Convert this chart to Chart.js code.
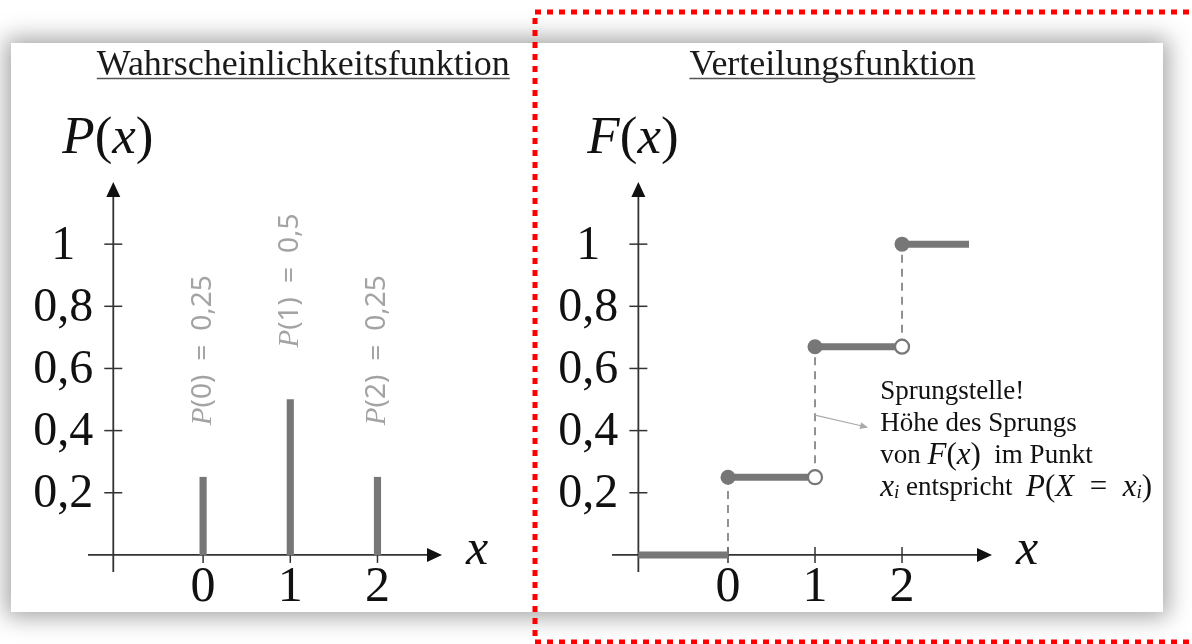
<!DOCTYPE html>
<html>
<head>
<meta charset="utf-8">
<script src="https://cdn.jsdelivr.net/npm/chart.js@4.4.1/dist/chart.umd.min.js"></script>
<style>
  html, body { margin: 0; padding: 0; background: #fff; }
  body { width: 1192px; height: 644px; position: relative; overflow: hidden; }
  #panel { position: absolute; left: 11px; top: 43px; width: 1152px; height: 569px; background: #fff;
           box-shadow: 0 0 22px 5px rgba(0,0,0,0.36); }
  .box { position: absolute; left: 0; top: 0; width: 1192px; height: 644px; }
  #frame { position: absolute; left: 0; top: 0; }
</style>
</head>
<body>
<div id="panel"></div>
<div class="box"><canvas id="pmfChart"></canvas></div>
<div class="box"><canvas id="cdfChart"></canvas></div>
<svg id="frame" width="1192" height="644">
  <rect x="535" y="12" width="720" height="630" fill="none" stroke="#f00" stroke-width="5" stroke-dasharray="6 6"/>
</svg>
<script>
const xValues = [0, 1, 2];
const pmfValues = [0.25, 0.5, 0.25];
const pmfLabels = ["P(0) = 0,25", "P(1) = 0,5", "P(2) = 0,25"];
const yTicks = [0.2, 0.4, 0.6, 0.8, 1];
const yTickLabels = ["0,2", "0,4", "0,6", "0,8", "1"];
// F(x) left of 0, on [0,1), on [1,2), from 2 on
const cdfLevels = [0, 0.25, 0.67, 1];
const cdfStart = -1.03;
const cdfEnd = 2.77;
const titles = ["Wahrscheinlichkeitsfunktion", "Verteilungsfunktion"];

const SERIF = '"Liberation Serif", serif';
const GRAY = "#777";

// draw a row of text pieces with different fonts
function drawParts(ctx, parts, x, y) {
  parts.forEach(p => {
    ctx.font = p.f;
    ctx.fillText(p.t, x, y + (p.dy || 0));
    x += ctx.measureText(p.t).width;
  });
}

const T = "27px " + SERIF, M = "31px " + SERIF, MI = "italic 31px " + SERIF, SUB = "italic 19px " + SERIF;
const noteLines = [
  [{ t: "Sprungstelle!", f: T }],
  [{ t: "Höhe des Sprungs", f: T }],
  [{ t: "von ", f: T }, { t: "F", f: MI }, { t: "(", f: M }, { t: "x", f: MI }, { t: ")", f: M },
   { t: "  im Punkt", f: T }],
  [{ t: "x", f: MI }, { t: "i", f: SUB, dy: 6 }, { t: " entspricht  ", f: T }, { t: "P", f: MI },
   { t: "(", f: M }, { t: "X", f: MI }, { t: "\u2002=\u2002", f: M }, { t: "x", f: MI },
   { t: "i", f: SUB, dy: 6 }, { t: ")", f: M }]
];

const axesPlugin = {
  id: "axes",
  beforeDatasetsDraw(chart, args, opts) {
    const ctx = chart.ctx, xs = chart.scales.x, ys = chart.scales.y, a = chart.chartArea;
    const x0 = xs.getPixelForValue(opts.yAxisAt), y0 = ys.getPixelForValue(0);
    ctx.save();
    ctx.strokeStyle = "#333";
    ctx.fillStyle = "#111";
    ctx.lineWidth = 1.8;
    // x axis with arrow
    ctx.beginPath(); ctx.moveTo(a.left, y0); ctx.lineTo(a.right - 10, y0); ctx.stroke();
    ctx.beginPath(); ctx.moveTo(a.right, y0); ctx.lineTo(a.right - 15, y0 - 7); ctx.lineTo(a.right - 15, y0 + 7);
    ctx.closePath(); ctx.fill();
    // y axis with arrow
    ctx.beginPath(); ctx.moveTo(x0, a.bottom); ctx.lineTo(x0, a.top + 10); ctx.stroke();
    ctx.beginPath(); ctx.moveTo(x0, a.top); ctx.lineTo(x0 - 7, a.top + 15); ctx.lineTo(x0 + 7, a.top + 15);
    ctx.closePath(); ctx.fill();
    // tick marks
    ctx.lineWidth = 1.5;
    yTicks.forEach(v => {
      const py = ys.getPixelForValue(v);
      ctx.beginPath(); ctx.moveTo(x0 - 9, py); ctx.lineTo(x0 + 9, py); ctx.stroke();
    });
    xValues.forEach(v => {
      const px = xs.getPixelForValue(v);
      ctx.beginPath(); ctx.moveTo(px, y0 - 8); ctx.lineTo(px, y0 + 8); ctx.stroke();
    });
    // tick labels
    ctx.textAlign = "center";
    ctx.textBaseline = "middle";
    ctx.font = "48px " + SERIF;
    yTicks.forEach((v, i) => ctx.fillText(yTickLabels[i], x0 - 50, ys.getPixelForValue(v) + 2));
    ctx.font = "50px " + SERIF;
    xValues.forEach(v => ctx.fillText(String(v), xs.getPixelForValue(v), y0 + 33));
    // axis names
    ctx.font = "italic 50px " + SERIF;
    ctx.fillText("x", a.right + 35, y0 - 4);
    ctx.textAlign = "left";
    ctx.textBaseline = "alphabetic";
    drawParts(ctx, [{ t: opts.name, f: "italic 53px " + SERIF }, { t: "(", f: "53px " + SERIF },
                    { t: "x", f: "italic 53px " + SERIF }, { t: ")", f: "53px " + SERIF }], x0 - 51, a.top - 29);
    // underlined title
    ctx.font = "36px " + SERIF;
    ctx.fillStyle = "#1a1a1a";
    const w = ctx.measureText(opts.title).width, tx = x0 + opts.titleShift;
    ctx.textAlign = "center";
    ctx.fillText(opts.title, tx, 75);
    ctx.strokeStyle = "#555";
    ctx.lineWidth = 1.5;
    ctx.beginPath(); ctx.moveTo(tx - w / 2, 78.5); ctx.lineTo(tx + w / 2, 78.5); ctx.stroke();
    ctx.restore();
  }
};

const pmfLabelPlugin = {
  id: "pmfLabels",
  afterDatasetsDraw(chart) {
    const ctx = chart.ctx, xs = chart.scales.x, ys = chart.scales.y;
    ctx.save();
    ctx.fillStyle = "#a3a3a3";
    ctx.textAlign = "left";
    ctx.textBaseline = "middle";
    xValues.forEach((v, i) => {
      ctx.save();
      ctx.translate(xs.getPixelForValue(v), ys.getPixelForValue(pmfValues[i]) - 52);
      ctx.rotate(-Math.PI / 2);
      const [lhs, rhs] = pmfLabels[i].split(" = ");
      const f = '28px "Noto Sans"';
      drawParts(ctx, [{ t: "P", f: "italic 29px " + SERIF }, { t: lhs.slice(1), f: f },
                      { t: "\u2002=\u2002", f: f }, { t: rhs, f: f }], 0, 0);
      ctx.restore();
    });
    ctx.restore();
  }
};

const notePlugin = {
  id: "note",
  afterDatasetsDraw(chart) {
    const ctx = chart.ctx, xs = chart.scales.x, ys = chart.scales.y;
    ctx.save();
    // thin arrow from the jump at x = 1 to the note
    const ax = xs.getPixelForValue(1), ay = ys.getPixelForValue(0.45);
    const bx = xs.getPixelForValue(1.61), by = ys.getPixelForValue(0.41);
    ctx.strokeStyle = "#aaa"; ctx.fillStyle = "#aaa"; ctx.lineWidth = 1.2;
    ctx.beginPath(); ctx.moveTo(ax, ay); ctx.lineTo(bx - 6, by - 1.5); ctx.stroke();
    const ang = Math.atan2(by - ay, bx - ax);
    ctx.beginPath(); ctx.moveTo(bx, by);
    ctx.lineTo(bx - 8 * Math.cos(ang) + 3.5 * Math.sin(ang), by - 8 * Math.sin(ang) - 3.5 * Math.cos(ang));
    ctx.lineTo(bx - 8 * Math.cos(ang) - 3.5 * Math.sin(ang), by - 8 * Math.sin(ang) + 3.5 * Math.cos(ang));
    ctx.closePath(); ctx.fill();
    // note text
    ctx.fillStyle = "#111";
    ctx.textAlign = "left";
    ctx.textBaseline = "middle";
    const nx = xs.getPixelForValue(1.75), ny = ys.getPixelForValue(0.526);
    noteLines.forEach((parts, i) => drawParts(ctx, parts, nx, ny + i * 32));
    ctx.restore();
  }
};

Chart.register(axesPlugin);

new Chart(document.getElementById("pmfChart"), {
  type: "bar",
  data: {
    datasets: [{
      data: xValues.map((x, i) => ({ x: x, y: pmfValues[i] })),
      backgroundColor: GRAY,
      barThickness: 6.5
    }]
  },
  options: {
    responsive: true,
    maintainAspectRatio: false,
    animation: false,
    layout: { padding: { left: 88, right: 750, top: 182, bottom: 72 } },
    scales: {
      x: { type: "linear", min: -1.32, max: 2.74, offset: false, display: false },
      y: { type: "linear", min: -0.055, max: 1.2, display: false }
    },
    plugins: {
      legend: { display: false },
      tooltip: { enabled: false },
      axes: { yAxisAt: -1.03, name: "P", title: titles[0], titleShift: 190 }
    }
  },
  plugins: [pmfLabelPlugin]
});

const cdfSets = [];
xValues.forEach((x, i) => cdfSets.push({
  data: [{ x: x, y: cdfLevels[i] }, { x: x, y: cdfLevels[i + 1] }],
  borderColor: GRAY, borderWidth: 1.6, borderDash: [8, 6], pointRadius: 0, order: 2
}));
const edges = [cdfStart, ...xValues, cdfEnd];
cdfLevels.forEach((v, i) => {
  const closed = i > 0, open = i > 0 && i < cdfLevels.length - 1;
  cdfSets.push({
    data: [{ x: edges[i], y: v }, { x: edges[i + 1], y: v }],
    borderColor: GRAY, borderWidth: 7, borderCapStyle: "butt",
    pointRadius: [closed ? 7.5 : 0, open ? 7 : 0],
    pointBackgroundColor: [GRAY, "#fff"], pointBorderColor: GRAY, pointBorderWidth: [0, 2.2],
    order: 1
  });
});

new Chart(document.getElementById("cdfChart"), {
  type: "line",
  data: { datasets: cdfSets },
  options: {
    responsive: true,
    maintainAspectRatio: false,
    animation: false,
    layout: { padding: { left: 612, right: 200, top: 182, bottom: 72 } },
    scales: {
      x: { type: "linear", min: -1.333, max: 3.034, display: false },
      y: { type: "linear", min: -0.055, max: 1.2, display: false }
    },
    plugins: {
      legend: { display: false },
      tooltip: { enabled: false },
      axes: { yAxisAt: -1.03, name: "F", title: titles[1], titleShift: 194 }
    }
  },
  plugins: [notePlugin]
});
</script>
</body>
</html>
